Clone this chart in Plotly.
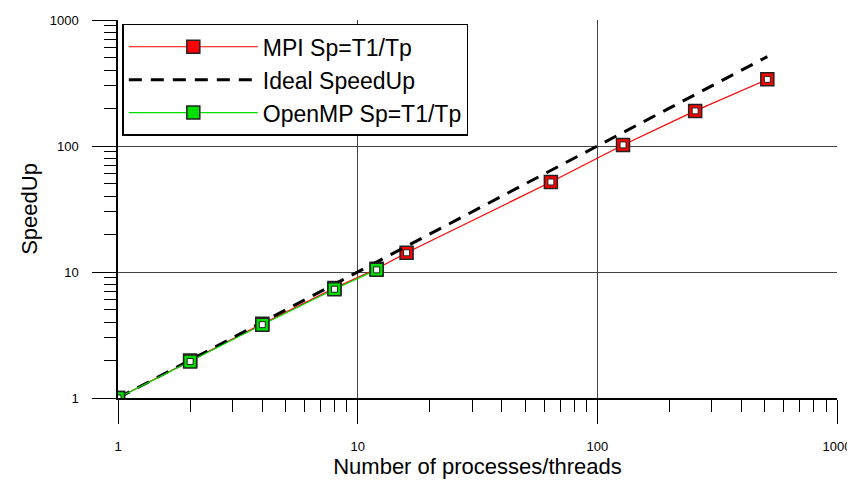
import plotly.graph_objects as go

# ---- data ----
mpi_x = [1, 2, 4, 8, 12, 16, 64, 128, 256, 512]
mpi_y = [1.0, 1.98, 3.88, 7.45, 10.6, 14.2, 51.8, 102, 190, 338]
ideal_x = [1, 512]
ideal_y = [1, 512]
omp_x = [1, 2, 4, 8, 12]
omp_y = [1.0, 1.95, 3.82, 7.3, 10.4]
tick_vals = [1, 10, 100, 1000]
tick_text = ["1", "10", "100", "1000"]

FONT = "Liberation Sans, Arial, sans-serif"

fig = go.Figure()

def add_series(x, y, color, name):
    fig.add_trace(go.Scatter(
        x=x, y=y, mode="lines+markers", name=name,
        line=dict(color=color, width=1.2),
        marker=dict(symbol="square", size=13, color=color,
                    line=dict(color="#222222", width=1.5)),
    ))
    fig.add_trace(go.Scatter(
        x=x, y=y, mode="markers", showlegend=False, hoverinfo="skip",
        marker=dict(symbol="square", size=6, color="white",
                    line=dict(color="#222222", width=1)),
    ))

add_series(mpi_x, mpi_y, "#ff0000", "MPI Sp=T1/Tp")
fig.add_trace(go.Scatter(
    x=ideal_x, y=ideal_y, mode="lines", name="Ideal SpeedUp",
    line=dict(color="black", width=3, dash="13px,9px"),
))
add_series(omp_x, omp_y, "#00e000", "OpenMP Sp=T1/Tp")

minor_vals = [m * 10 ** d for d in range(3) for m in range(2, 10)]

axis_common = dict(
    type="log", range=[0, 3], automargin=False,
    tickvals=tick_vals, ticktext=tick_text,
    ticks="outside", ticklen=24, tickwidth=1, tickcolor="black",
    showline=True, linecolor="black", linewidth=1.5,
    showgrid=True, gridcolor="#444444", gridwidth=1,
    zeroline=False,
    tickfont=dict(family=FONT, size=13, color="black"),
    minor=dict(tickvals=minor_vals, ticks="outside", ticklen=12,
               tickwidth=1, tickcolor="black", showgrid=False),
)

# page body has an 8px margin, so the figure is shifted by 8px
fig.update_layout(
    width=847, height=473,
    margin=dict(l=110, r=18, t=12, b=83),
    paper_bgcolor="white", plot_bgcolor="white",
    font=dict(family=FONT, color="black"),
    xaxis=dict(axis_common,
               title=dict(text="Number of processes/threads",
                          font=dict(family=FONT, size=22), standoff=2),
               ticklabelstandoff=12),
    yaxis=dict(axis_common,
               title=dict(text="SpeedUp", font=dict(family=FONT, size=22),
                          standoff=6),
               ticklabelstandoff=11),
    legend=dict(x=0.006, y=0.99, xanchor="left", yanchor="top",
                bgcolor="white", bordercolor="black", borderwidth=1.5,
                font=dict(family=FONT, size=23, color="black"),
                itemwidth=129, tracegroupgap=0),
    showlegend=True,
)

fig.write_html("out.html")
